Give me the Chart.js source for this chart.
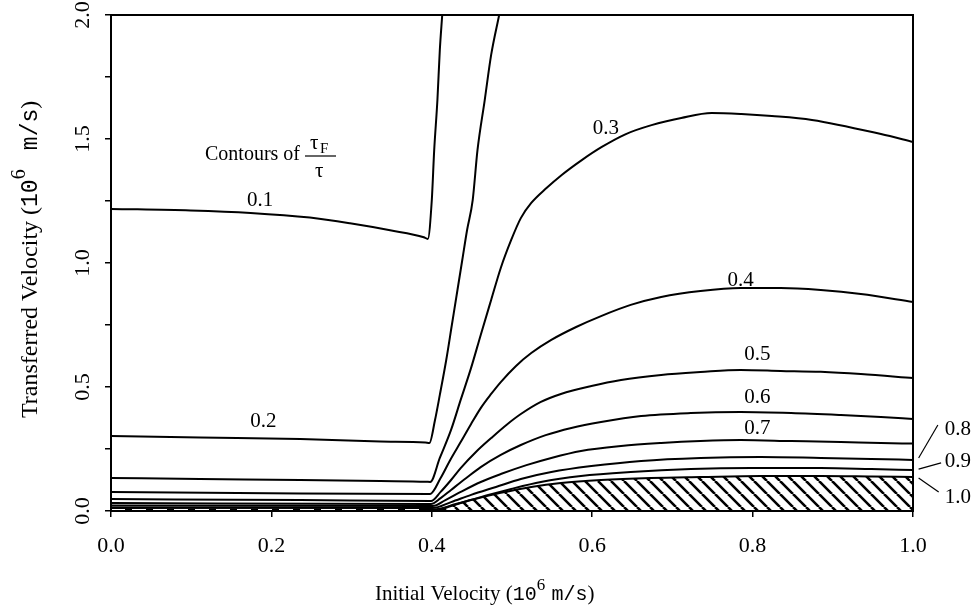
<!DOCTYPE html>
<html>
<head>
<meta charset="utf-8">
<script src="https://cdn.jsdelivr.net/npm/chart.js@4.4.1/dist/chart.umd.min.js"></script>
<style>
  html, body { margin: 0; padding: 0; background: #fff; }
</style>
</head>
<body>
<canvas id="chart" width="972" height="611"></canvas>
<script>
// contour lines of tauF/tau, x = initial velocity, y = transferred velocity (10^6 m/s)
const c01_x = [0, 0.099, 0.174, 0.248, 0.298, 0.348, 0.390, 0.395, 0.400, 0.403, 0.407, 0.410, 0.413];
const c01_y = [1.218, 1.212, 1.202, 1.183, 1.160, 1.132, 1.104, 1.097, 1.254, 1.456, 1.657, 1.859, 2.0];

const c02_x = [0, 0.111, 0.236, 0.336, 0.392, 0.397, 0.404, 0.410, 0.418, 0.425, 0.432, 0.438, 0.444, 0.451, 0.457, 0.466, 0.474, 0.484];
const c02_y = [0.302, 0.296, 0.290, 0.280, 0.276, 0.274, 0.367, 0.468, 0.609, 0.750, 0.891, 1.012, 1.133, 1.254, 1.456, 1.657, 1.839, 2.0];

const c03_x = [0, 0.111, 0.236, 0.336, 0.393, 0.398, 0.410, 0.424, 0.436, 0.449, 0.461, 0.474, 0.486, 0.499, 0.511, 0.524, 0.543, 0.562, 0.587, 0.612, 0.642, 0.674, 0.711, 0.749, 0.786, 0.824, 0.874, 0.960, 1.0];
const c03_y = [0.133, 0.129, 0.125, 0.121, 0.118, 0.117, 0.214, 0.327, 0.448, 0.577, 0.710, 0.851, 0.980, 1.093, 1.181, 1.242, 1.302, 1.355, 1.415, 1.468, 1.520, 1.556, 1.585, 1.605, 1.601, 1.593, 1.577, 1.520, 1.488];

const c04_x = [0, 0.236, 0.398, 0.411, 0.423, 0.436, 0.449, 0.461, 0.474, 0.486, 0.505, 0.524, 0.549, 0.580, 0.611, 0.648, 0.686, 0.735, 0.785, 0.835, 0.885, 0.935, 1.0];
const c04_y = [0.077, 0.071, 0.069, 0.133, 0.206, 0.278, 0.351, 0.415, 0.472, 0.520, 0.585, 0.637, 0.690, 0.742, 0.786, 0.831, 0.863, 0.887, 0.899, 0.899, 0.891, 0.875, 0.843];

const c05_x = [0, 0.236, 0.399, 0.411, 0.424, 0.436, 0.455, 0.474, 0.493, 0.511, 0.536, 0.561, 0.599, 0.636, 0.686, 0.735, 0.785, 0.835, 0.885, 0.935, 1.0];
const c05_y = [0.048, 0.044, 0.040, 0.077, 0.125, 0.173, 0.238, 0.294, 0.347, 0.391, 0.440, 0.472, 0.504, 0.528, 0.548, 0.560, 0.569, 0.565, 0.561, 0.552, 0.536];

const c06_x = [0, 0.399, 0.411, 0.424, 0.443, 0.461, 0.486, 0.511, 0.542, 0.574, 0.611, 0.661, 0.723, 0.785, 0.848, 0.910, 0.960, 1.0];
const c06_y = [0.032, 0.028, 0.052, 0.085, 0.133, 0.177, 0.226, 0.266, 0.306, 0.335, 0.359, 0.383, 0.395, 0.399, 0.395, 0.387, 0.379, 0.371];

const c07_x = [0, 0.401, 0.417, 0.436, 0.461, 0.486, 0.518, 0.549, 0.586, 0.636, 0.686, 0.735, 0.785, 0.848, 0.910, 0.960, 1.0];
const c07_y = [0.022, 0.020, 0.044, 0.077, 0.117, 0.149, 0.185, 0.214, 0.242, 0.262, 0.274, 0.282, 0.286, 0.282, 0.278, 0.274, 0.272];

const c08_x = [0, 0.401, 0.424, 0.449, 0.480, 0.511, 0.549, 0.599, 0.661, 0.735, 0.810, 0.885, 0.948, 1.0];
const c08_y = [0.014, 0.012, 0.036, 0.065, 0.097, 0.129, 0.157, 0.181, 0.202, 0.214, 0.218, 0.214, 0.210, 0.206];

const c09_x = [0, 0.402, 0.430, 0.461, 0.499, 0.536, 0.586, 0.648, 0.723, 0.798, 0.885, 0.948, 1.0];
const c09_y = [0.008, 0.006, 0.028, 0.056, 0.089, 0.117, 0.141, 0.157, 0.169, 0.173, 0.173, 0.169, 0.165];

const c10_x = [0, 0.402, 0.424, 0.449, 0.486, 0.524, 0.561, 0.611, 0.673, 0.735, 0.810, 0.885, 0.948, 1.0];
const c10_y = [0.002, 0.0, 0.020, 0.044, 0.073, 0.097, 0.113, 0.125, 0.133, 0.137, 0.141, 0.141, 0.139, 0.137];

// white scan gap in the dark band near zero
const gap_x = [0, 0.39];
const gap_y = [0.005, 0.005];

// inline contour labels
const labelText = ['0.1', '0.2', '0.3', '0.4', '0.5', '0.6', '0.7'];
const labelX = [0.186, 0.190, 0.617, 0.785, 0.806, 0.806, 0.806];
const labelY = [1.254, 0.359, 1.544, 0.931, 0.633, 0.456, 0.331];

// labels outside the right edge, with leader lines
const sideText = ['0.8', '0.9', '1.0'];
const sideX = [1.056, 1.056, 1.056];
const sideY = [0.327, 0.198, 0.056];
const leadFromX = [1.031, 1.035, 1.032];
const leadFromY = [0.347, 0.194, 0.077];
const leadToX = [1.007, 1.007, 1.007];
const leadToY = [0.214, 0.169, 0.133];

const xTicks = [0, 0.2, 0.4, 0.6, 0.8, 1.0];

const SERIF = '"Liberation Serif", "Times New Roman", serif';
const MONO = '"Liberation Mono", "Courier New", monospace';

const canvas = document.getElementById('chart');
const ctx = canvas.getContext('2d');

function pts(xs, ys) {
  return xs.map((v, i) => ({x: v, y: ys[i]}));
}

function hatch() {
  const s = 13;
  const c = document.createElement('canvas');
  c.width = s; c.height = s;
  const g = c.getContext('2d');
  g.strokeStyle = '#000';
  g.lineWidth = 2.6;
  g.beginPath();
  for (const k of [-s, 0, s]) {
    g.moveTo(k, 0);
    g.lineTo(k + s, s);
  }
  g.stroke();
  return ctx.createPattern(c, 'repeat');
}

function line(xs, ys, extra) {
  return Object.assign({
    data: pts(xs, ys),
    borderColor: '#000',
    borderWidth: 2,
    fill: false,
    order: 1
  }, extra || {});
}

// draw text made of several runs (different fonts) starting at 0,0
function runs(g, parts) {
  let x = 0;
  for (const p of parts) {
    g.font = p.f;
    g.fillText(p.t, x, p.dy || 0);
    x += g.measureText(p.t).width + (p.gap || 0);
  }
}

const overlay = {
  id: 'overlay',
  afterDraw(chart) {
    const g = chart.ctx;
    const a = chart.chartArea;
    const xs = chart.scales.x, ys = chart.scales.y;
    g.save();
    g.strokeStyle = '#000';
    g.fillStyle = '#000';
    g.lineWidth = 2;
    g.strokeRect(a.left, a.top, a.right - a.left, a.bottom - a.top);

    g.textAlign = 'center';
    g.textBaseline = 'middle';
    g.font = '21px ' + SERIF;
    labelText.forEach((t, i) => {
      g.fillText(t, xs.getPixelForValue(labelX[i]), ys.getPixelForValue(labelY[i]));
    });
    sideText.forEach((t, i) => {
      g.fillText(t, xs.getPixelForValue(sideX[i]), ys.getPixelForValue(sideY[i]));
      g.lineWidth = 1.2;
      g.beginPath();
      g.moveTo(xs.getPixelForValue(leadFromX[i]), ys.getPixelForValue(leadFromY[i]));
      g.lineTo(xs.getPixelForValue(leadToX[i]), ys.getPixelForValue(leadToY[i]));
      g.stroke();
    });

    // "Contours of  tauF / tau"
    g.textAlign = 'left';
    g.textBaseline = 'alphabetic';
    g.font = '20px ' + SERIF;
    g.fillText('Contours of', 205, 160);
    g.font = '21px ' + SERIF;
    g.fillText('\u03c4', 310, 149);
    g.font = '15px ' + SERIF;
    g.fillText('F', 320, 153);
    g.lineWidth = 1.2;
    g.beginPath();
    g.moveTo(305, 156);
    g.lineTo(336, 156);
    g.stroke();
    g.font = '21px ' + SERIF;
    g.fillText('\u03c4', 315, 177);

    // axis titles
    const title = (word, s, gap) => [
      {t: word + ' (', f: s + 'px ' + SERIF},
      {t: '10', f: (s - 1) + 'px ' + MONO},
      {t: '6', f: (s - 4) + 'px ' + SERIF, dy: -s * 0.5, gap: s * gap},
      {t: 'm/s', f: (s - 1) + 'px ' + MONO},
      {t: ')', f: s + 'px ' + SERIF}
    ];
    g.save();
    g.translate(375, 600);
    runs(g, title('Initial Velocity', 21, 0.3));
    g.restore();

    g.save();
    g.translate(37, 418);
    g.rotate(-Math.PI / 2);
    runs(g, title('Transferred Velocity', 24, 0.8));
    g.restore();

    g.restore();
  }
};

new Chart(ctx, {
  type: 'scatter',
  data: {
    datasets: [
      line(gap_x, gap_y, {borderColor: '#fff', borderWidth: 1.5, borderDash: [14, 7], order: 0}),
      line(c01_x, c01_y),
      line(c02_x, c02_y),
      line(c03_x, c03_y),
      line(c04_x, c04_y),
      line(c05_x, c05_y),
      line(c06_x, c06_y),
      line(c07_x, c07_y),
      line(c08_x, c08_y),
      line(c09_x, c09_y),
      line(c10_x, c10_y, {fill: 'origin', backgroundColor: hatch()})
    ]
  },
  options: {
    responsive: false,
    animation: false,
    showLine: true,
    layout: {padding: {top: 15, right: 59, left: 0, bottom: 0}},
    elements: {
      point: {radius: 0, hoverRadius: 0},
      line: {cubicInterpolationMode: 'monotone'}
    },
    plugins: {legend: {display: false}, tooltip: {enabled: false}},
    scales: {
      x: {
        type: 'linear',
        min: 0,
        max: 1,
        afterFit(s) { s.height = 100; s.paddingLeft = 0; s.paddingRight = 0; },
        afterBuildTicks(s) { s.ticks = xTicks.map(v => ({value: v})); },
        ticks: {
          color: '#000',
          padding: 16,
          font: {family: SERIF, size: 22},
          callback: v => v.toFixed(1)
        },
        grid: {drawOnChartArea: false, drawTicks: true, tickLength: 6, color: '#000', lineWidth: 1.5},
        border: {color: '#000', width: 2}
      },
      y: {
        type: 'linear',
        min: 0,
        max: 2,
        afterFit(s) { s.width = 111; s.paddingTop = 0; s.paddingBottom = 0; },
        ticks: {
          stepSize: 0.25,
          autoSkip: false,
          color: '#000',
          padding: 8,
          minRotation: 90,
          maxRotation: 90,
          crossAlign: 'center',
          font: {family: SERIF, size: 22},
          callback: v => Math.abs(v * 2 - Math.round(v * 2)) < 1e-6 ? v.toFixed(1) : ''
        },
        grid: {drawOnChartArea: false, drawTicks: true, tickLength: 6, color: '#000', lineWidth: 1.5},
        border: {color: '#000', width: 2}
      }
    }
  },
  plugins: [overlay]
});
</script>
</body>
</html>
